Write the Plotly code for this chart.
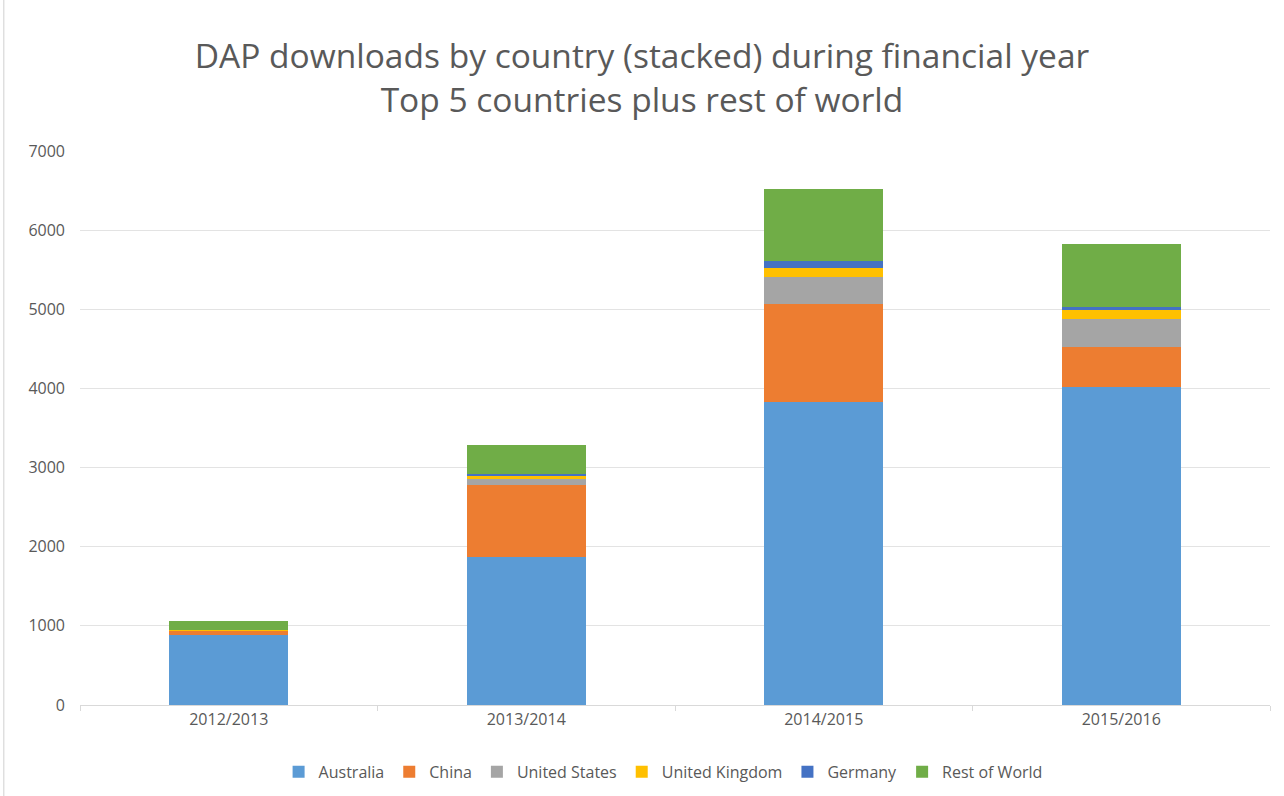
import plotly.graph_objects as go

years = ["2012/2013", "2013/2014", "2014/2015", "2015/2016"]
australia = [880, 1866, 3833, 4012]
china = [58, 914, 1230, 506]
united_states = [6, 72, 349, 355]
united_kingdom = [4, 42, 114, 117]
germany = [3, 30, 88, 42]
rest_of_world = [110, 366, 902, 788]

series = [
    ("Australia", australia, "#5B9BD5"),
    ("China", china, "#ED7D31"),
    ("United States", united_states, "#A5A5A5"),
    ("United Kingdom", united_kingdom, "#FFC000"),
    ("Germany", germany, "#4472C4"),
    ("Rest of World", rest_of_world, "#70AD47"),
]

fig = go.Figure()
for name, vals, color in series:
    fig.add_trace(go.Bar(x=years, y=vals, name=name, marker=dict(color=color, line=dict(width=0))))

fig.update_layout(
    barmode="stack",
    bargap=0.6,
    width=1284, height=796,
    paper_bgcolor="white", plot_bgcolor="white",
    margin=dict(l=80, r=14, t=151, b=91, autoexpand=False),
    font=dict(family="Open Sans", color="#595959"),
    title=dict(
        text="DAP downloads by country (stacked) during financial year<br>Top 5 countries plus rest of world",
        x=0.5, xanchor="center", y=0.914, yanchor="middle",
        font=dict(size=33.5, color="#595959", family="Open Sans"),
    ),
    legend=dict(orientation="h", x=0.49, xanchor="center", y=-0.09, yanchor="top",
                font=dict(size=16, color="#595959"), traceorder="normal"),
    xaxis=dict(showline=True, linecolor="#d9d9d9", linewidth=1, ticks="outside",
               tickson="boundaries", tickcolor="#d9d9d9", ticklen=5,
               tickfont=dict(size=16, color="#595959")),
    yaxis=dict(range=[0, 7000], dtick=1000, showgrid=True, gridcolor="#e3e3e3",
               zeroline=False, tickfont=dict(size=16, color="#595959"), ticklabelstandoff=14),
)
fig.add_shape(type="line", xref="paper", yref="paper", x0=-0.064, x1=-0.064, y0=-0.2, y1=1.3,
              line=dict(color="#d0d0d0", width=1))
fig.write_html("out.html")
